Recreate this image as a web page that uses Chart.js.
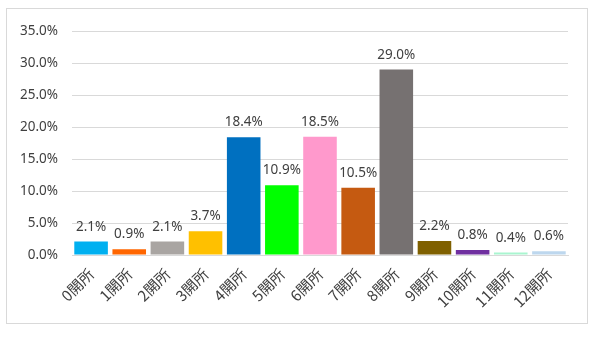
<!DOCTYPE html>
<html><head><meta charset="utf-8">
<script src="https://cdn.jsdelivr.net/npm/chart.js@4"></script>
<style>
html,body{margin:0;padding:0;background:#fff;width:600px;height:339px;overflow:hidden;}
#box{position:absolute;left:6px;top:8px;width:580px;height:314px;border:1px solid #D9D9D9;}
#wrap{position:absolute;left:0;top:0;width:580px;height:314px;}
</style></head><body>
<div id="box"><div id="wrap"><canvas id="c"></canvas></div></div>
<script>
const categories = ["0開所","1開所","2開所","3開所","4開所","5開所","6開所","7開所","8開所","9開所","10開所","11開所","12開所"];
const values = [2.1,0.9,2.1,3.7,18.4,10.9,18.5,10.5,29.0,2.2,0.8,0.4,0.6];
const barColors = ["#00B0F0","#FF6600","#A9A5A2","#FFC000","#0070C0","#00FF00","#FF99CC","#C55A11","#767171","#7F6000","#7030A0","#A9F5D0","#BDD7EE"];
const yTicks = [0,5,10,15,20,25,30,35];

const valueLabels = {
  id:'valueLabels',
  afterDatasetsDraw(chart){
    const ctx = chart.ctx;
    const meta = chart.getDatasetMeta(0);
    ctx.save();
    ctx.font = '13.5px "Noto Sans"';
    ctx.fillStyle = '#404040';
    ctx.textAlign = 'center';
    ctx.textBaseline = 'bottom';
    meta.data.forEach((bar,i)=>{
      ctx.fillText(values[i].toFixed(1)+'%', bar.x, bar.y-8);
    });
    ctx.restore();
  }
};

new Chart(document.getElementById('c'),{
  type:'bar',
  data:{labels:categories,datasets:[{data:values,backgroundColor:barColors,borderColor:barColors,borderWidth:0,barPercentage:0.88,categoryPercentage:1.0}]},
  options:{
    responsive:true,maintainAspectRatio:false,animation:false,
    layout:{padding:{top:13,right:19,left:0,bottom:0}},
    plugins:{legend:{display:false},tooltip:{enabled:false}},
    scales:{
      x:{
        grid:{display:false},
        border:{display:true,color:'#D9D9D9'},
        ticks:{color:'#404040',font:{family:'"Noto Sans CJK JP"',size:15},maxRotation:45,minRotation:45,padding:2,autoSkip:false},
        afterFit(s){s.height=68;}
      },
      y:{
        min:0,max:35,
        afterBuildTicks(s){s.ticks=yTicks.map(v=>({value:v}));},
        grid:{color:'#D9D9D9',drawTicks:false},
        border:{display:false},
        ticks:{color:'#404040',font:{family:'"Noto Sans"',size:13.5},padding:14,callback:v=>v.toFixed(1)+'%'},
        afterFit(s){s.width=65;}
      }
    }
  },
  plugins:[valueLabels]
});
</script>
</body></html>
